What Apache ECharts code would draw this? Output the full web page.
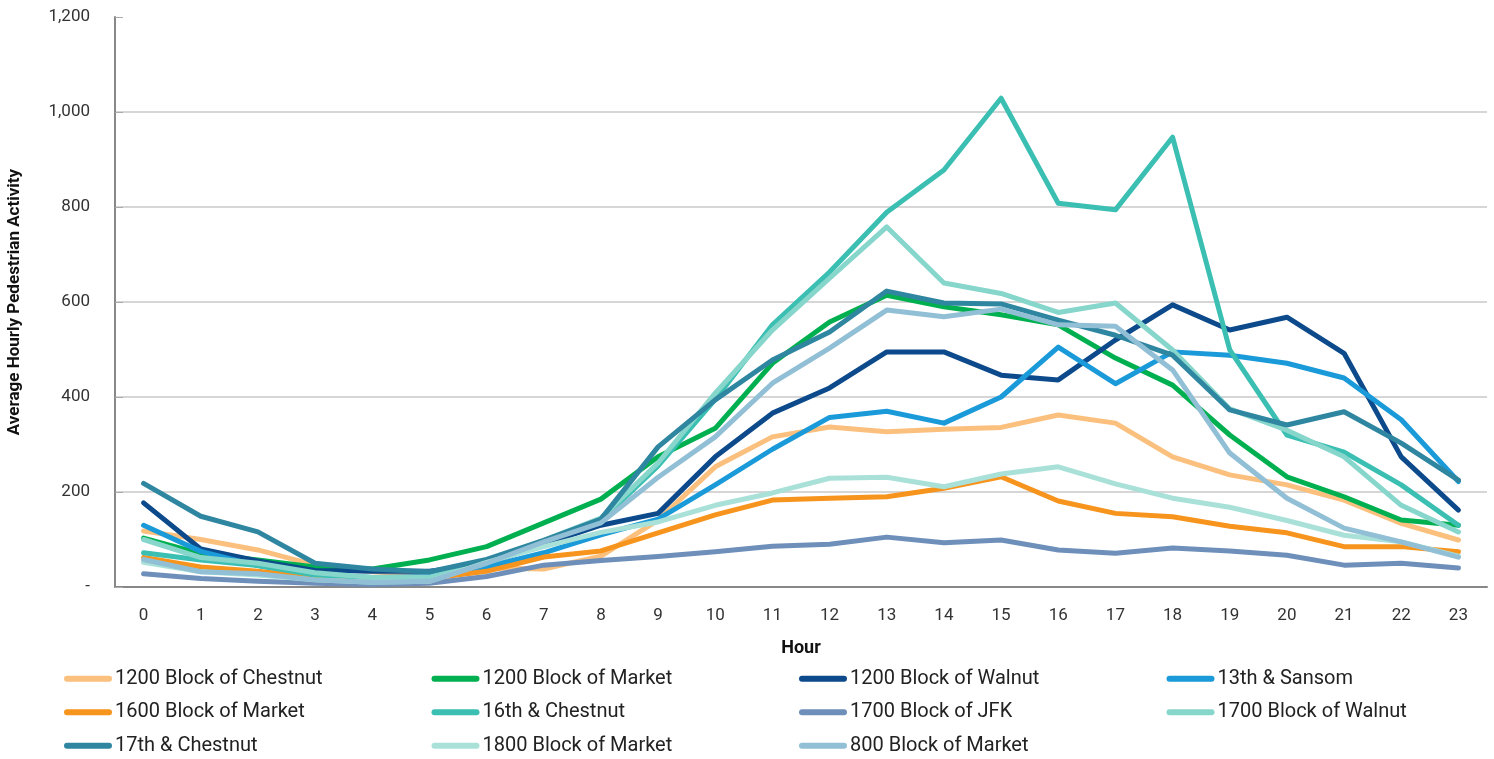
<!DOCTYPE html>
<html>
<head>
<meta charset="utf-8">
<title>Average Hourly Pedestrian Activity</title>
<script src="https://cdn.jsdelivr.net/npm/echarts@6/dist/echarts.min.js"></script>
<style>
  html, body { margin: 0; padding: 0; background: #fff; }
  #chart { width: 1494px; height: 759px; }
</style>
</head>
<body>
<div id="chart"></div>
<script>
// hours of the day
var hours = ['0','1','2','3','4','5','6','7','8','9','10','11','12','13','14','15','16','17','18','19','20','21','22','23'];

// average hourly counts per location
var chestnut1200 = [118,100,78,46,32,25,40,38,65,141,253,316,337,327,332,336,362,345,274,236,215,183,134,99];
var market1200   = [103,70,57,42,38,57,85,135,185,274,334,471,558,614,590,573,552,482,425,320,232,190,141,130];
var walnut1200   = [177,80,55,35,33,33,48,90,130,155,274,366,419,495,495,446,436,520,594,541,568,492,274,162];
var sansom13     = [130,75,45,25,20,22,42,72,110,143,215,290,357,370,345,400,505,428,495,488,471,440,352,222];
var market1600   = [62,42,33,20,15,18,33,63,76,114,152,183,187,190,208,232,181,155,148,128,114,85,85,74];
var chestnut16   = [72,57,45,25,20,20,50,95,140,255,395,552,663,789,878,1029,808,794,947,499,320,284,215,130];
var jfk1700      = [28,18,12,8,5,8,22,46,56,64,74,86,90,105,93,99,78,71,82,76,67,46,50,40];
var walnut1700   = [100,62,50,30,20,20,55,98,145,261,408,541,650,758,640,618,578,598,499,375,330,274,172,116];
var chestnut17   = [218,149,116,50,38,32,58,98,143,295,394,478,537,623,598,596,562,530,488,373,341,369,303,225];
var market1800   = [52,32,25,15,10,12,52,85,115,137,172,198,229,231,211,238,253,217,187,168,140,109,95,65];
var market800    = [58,32,28,15,10,12,50,95,135,231,316,429,503,583,569,585,552,549,457,282,187,124,95,63];

var names = ['1200 Block of Chestnut','1200 Block of Market','1200 Block of Walnut','13th & Sansom',
             '1600 Block of Market','16th & Chestnut','1700 Block of JFK','1700 Block of Walnut',
             '17th & Chestnut','1800 Block of Market','800 Block of Market'];
var values = [chestnut1200, market1200, walnut1200, sansom13, market1600, chestnut16,
              jfk1700, walnut1700, chestnut17, market1800, market800];
var colors = ['#fbc07e','#00b050','#0d4a8b','#1a9ad8','#f7941d','#3bbfb2',
              '#6e8fba','#86d6cc','#2f86a0','#a9e1d9','#91bfd5'];

var font = 'Roboto, "DejaVu Sans", sans-serif';

var chartDom = document.getElementById('chart');
var myChart = echarts.init(chartDom);

var series = names.map(function (n, i) {
    return {
        name: n,
        type: 'line',
        data: values[i],
        symbol: 'none',
        lineStyle: { width: 5, color: colors[i], cap: 'round', join: 'round' },
        itemStyle: { color: colors[i] }
    };
});

var option = {
    animation: false,
    color: colors,
    grid: { left: 115, right: 7, top: 17, bottom: 172, outerBoundsMode: 'none', containLabel: false },
    legend: {
        left: 59,
        top: 657,
        width: 1480,
        itemGap: 0,
        itemWidth: 48,
        itemHeight: 6,
        icon: 'path://M3,0 L45,0 A3,3 0 0 1 45,6 L3,6 A3,3 0 0 1 3,0 Z',
        textStyle: { fontFamily: font, fontSize: 20, color: '#222', width: 316.5, lineHeight: 33.5, padding: [0, 0, 0, -2] },
        data: names
    },
    xAxis: {
        type: 'category',
        data: hours,
        name: 'Hour',
        nameLocation: 'middle',
        nameGap: 52,
        nameTextStyle: { fontFamily: font, fontSize: 18, fontWeight: 'bold', color: '#111' },
        axisLine: { lineStyle: { color: '#888', width: 2 } },
        axisTick: { show: false },
        axisLabel: { fontFamily: font, fontSize: 17, color: '#333', margin: 20 }
    },
    yAxis: {
        type: 'value',
        min: 0,
        max: 1200,
        interval: 200,
        name: 'Average Hourly Pedestrian Activity',
        nameLocation: 'middle',
        nameGap: 92,
        nameTextStyle: { fontFamily: font, fontSize: 17, fontWeight: 'bold', color: '#111' },
        axisLine: { show: true, lineStyle: { color: '#888', width: 2 } },
        axisTick: { show: true, inside: true, length: 8, lineStyle: { color: '#aaa' } },
        axisLabel: {
            fontFamily: font, fontSize: 17, color: '#333', margin: 25,
            formatter: function (v) { return v === 0 ? '-' : v.toLocaleString('en-US'); }
        },
        splitLine: { showMaxLine: false, lineStyle: { color: '#c8c8c8', width: 1.5 } }
    },
    series: series
};

myChart.setOption(option);

window.addEventListener('resize', function () {
    myChart.resize();
});
</script>
</body>
</html>
